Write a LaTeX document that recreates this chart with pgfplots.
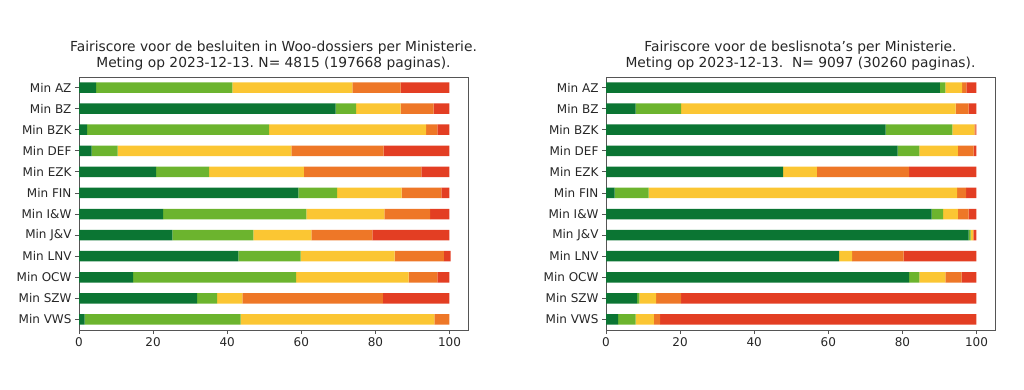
\documentclass[border=0pt]{standalone}
\usepackage{pgfplots}
\usepackage{pgfplotstable}
\usepackage{fontspec}
\setmainfont{DejaVu Sans}
\frenchspacing
\pgfplotsset{compat=1.18}
\definecolor{cdg}{HTML}{0B7533}
\definecolor{clg}{HTML}{6CB42E}
\definecolor{cye}{HTML}{FBC633}
\definecolor{cor}{HTML}{EE7727}
\definecolor{cre}{HTML}{E33E23}
\definecolor{axc}{HTML}{555555}
\pgfplotstableread{
y dg lg ye or re
0 4.6 36.8 32.4 13.0 13.2
1 69.3 5.5 12.0 8.9 4.3
2 2.2 49.1 42.4 3.0 3.3
3 3.4 7.0 46.9 24.9 17.8
4 20.8 14.3 25.6 31.7 7.6
5 59.2 10.5 17.4 10.7 2.2
6 22.7 38.7 21.0 12.4 5.2
7 25.2 21.9 15.6 16.5 20.8
8 43.0 16.8 25.4 13.3 1.8
9 14.6 44.0 30.4 7.7 3.3
10 31.9 5.4 6.8 37.9 18.0
11 1.5 42.1 52.3 4.1 0
}\leftdata
\pgfplotstableread{
y dg lg ye or re
0 90.1 1.5 4.5 1.2 2.7
1 8.0 12.3 74.1 3.5 2.1
2 75.5 18.0 5.9 0.3 0.3
3 78.7 5.9 10.4 4.2 0.8
4 47.8 0 9.1 24.9 18.2
5 2.3 9.2 83.3 2.4 2.8
6 87.9 3.1 4.0 2.9 2.1
7 97.9 0.5 0.6 0.2 0.8
8 62.9 0 3.5 13.9 19.7
9 81.8 2.8 7.0 4.4 4.0
10 8.4 0.6 4.5 6.8 79.7
11 3.3 4.7 4.9 1.7 85.4
}\rightdata
\pgfplotsset{
  fair/.style={
    xbar stacked,
    bar width=0.5,
    width=389pt, height=253pt,
    scale only axis,
    xmin=0, xmax=105,
    ymin=-0.5, ymax=11.5,
    y dir=reverse,
    ytick={0,...,11},
    yticklabels={Min AZ,Min BZ,Min BZK,Min DEF,Min EZK,Min FIN,Min I\&W,Min J\&V,Min LNV,Min OCW,Min SZW,Min VWS},
    xtick={0,20,40,60,80,100},
    xtick pos=bottom, ytick pos=left,
    tick align=outside,
    major tick length=4pt,
    axis line style={axc, line width=0.9pt},
    every tick/.style={axc, line width=0.8pt},
    ticklabel style={font=\fontsize{12}{13}\selectfont, text=black!85},
    /pgf/number format/assume math mode=true,
    title style={font=\fontsize{13.8}{16}\selectfont, align=center, text=black!85, yshift=-3pt},
    every axis plot/.append style={draw=none},
    clip=false,
  }
}
\begin{document}
\begin{tikzpicture}[x=1pt,y=1pt]
\useasboundingbox (0,0) rectangle (1024,389);
\begin{axis}[fair, at={(79pt,59pt)}, anchor=south west,
  title={Fairiscore voor de besluiten in Woo-dossiers per Ministerie.\\Meting op 2023-12-13. N= 4815 (197668 paginas).}]
\addplot[fill=cdg] table[x=dg,y=y]{\leftdata};
\addplot[fill=clg] table[x=lg,y=y]{\leftdata};
\addplot[fill=cye] table[x=ye,y=y]{\leftdata};
\addplot[fill=cor] table[x=or,y=y]{\leftdata};
\addplot[fill=cre] table[x=re,y=y]{\leftdata};
\end{axis}
\begin{axis}[fair, at={(606pt,59pt)}, anchor=south west,
  title={Fairiscore voor de beslisnota's per Ministerie.\\Meting op 2023-12-13.\ \ N= 9097 (30260 paginas).}]
\addplot[fill=cdg] table[x=dg,y=y]{\rightdata};
\addplot[fill=clg] table[x=lg,y=y]{\rightdata};
\addplot[fill=cye] table[x=ye,y=y]{\rightdata};
\addplot[fill=cor] table[x=or,y=y]{\rightdata};
\addplot[fill=cre] table[x=re,y=y]{\rightdata};
\end{axis}
\end{tikzpicture}
\end{document}
